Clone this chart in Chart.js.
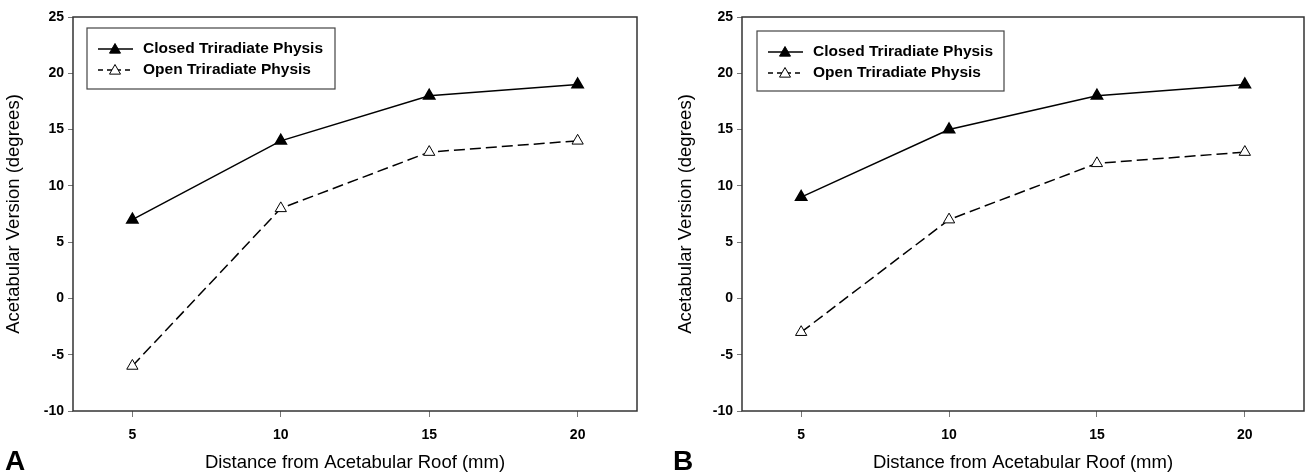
<!DOCTYPE html>
<html>
<head>
<meta charset="utf-8">
<script src="https://cdn.jsdelivr.net/npm/chart.js@4.4.1/dist/chart.umd.min.js"></script>
<style>
  body { margin: 0; background: #fff; overflow: hidden; }
  .panel { position: absolute; top: 0; height: 475px; }
</style>
</head>
<body>
<div class="panel" style="left:0;width:653px"><canvas id="chartA" width="653" height="475"></canvas></div>
<div class="panel" style="left:653px;width:659px"><canvas id="chartB" width="659" height="475"></canvas></div>
<script>
// distances from the acetabular roof (mm)
const distances = [5, 10, 15, 20];
const seriesNames = ['Closed Triradiate Physis', 'Open Triradiate Physis'];

// panel A
const closedA = [7, 14, 18, 19];
const openA = [-6, 8, 13, 14];
// panel B
const closedB = [9, 15, 18, 19];
const openB = [-3, 7, 12, 13];

const xTicks = [5, 10, 15, 20];
const yTicks = [-10, -5, 0, 5, 10, 15, 20, 25];

const FONT = "'Liberation Sans', Arial, sans-serif";
const DASH = [11, 5];

function pts(vals) {
  return vals.map((v, i) => ({ x: distances[i], y: v }));
}

// box around the plot area, legend and panel letter
const extras = {
  id: 'extras',
  afterDraw(chart, args, o) {
    const ctx = chart.ctx;
    const a = chart.chartArea;
    ctx.save();
    ctx.strokeStyle = '#333';
    ctx.lineWidth = 1.5;
    ctx.strokeRect(a.left, a.top, a.right - a.left, a.bottom - a.top);

    // legend
    const bx = a.left + o.lx, by = a.top + o.ly;
    ctx.lineWidth = 1.2;
    ctx.strokeStyle = '#444';
    ctx.strokeRect(bx, by, o.lw, o.lh);
    ctx.font = 'bold 15.5px ' + FONT;
    ctx.textBaseline = 'middle';
    ctx.fillStyle = '#000';
    chart.data.datasets.forEach((ds, i) => {
      const y = by + 21 + i * 21;
      ctx.strokeStyle = '#000';
      ctx.lineWidth = 1.5;
      ctx.setLineDash(ds.borderDash ? [5, 4] : []);
      ctx.beginPath();
      ctx.moveTo(bx + 11, y);
      ctx.lineTo(bx + 46, y);
      ctx.stroke();
      ctx.setLineDash([]);
      const cx = bx + 28, r = 5.5;
      ctx.beginPath();
      ctx.moveTo(cx, y - r);
      ctx.lineTo(cx + r, y + r * 0.75);
      ctx.lineTo(cx - r, y + r * 0.75);
      ctx.closePath();
      ctx.fillStyle = ds.pointBackgroundColor;
      ctx.fill();
      ctx.lineWidth = 1;
      ctx.stroke();
      ctx.fillStyle = '#000';
      ctx.fillText(ds.label, bx + 56, y);
    });

    // panel letter
    ctx.font = 'bold 28px ' + FONT;
    ctx.textBaseline = 'alphabetic';
    ctx.fillText(o.letter, o.letterX, 470);
    ctx.restore();
  }
};

function makeChart(id, closed, open, cfg) {
  return new Chart(document.getElementById(id), {
    type: 'line',
    data: {
      datasets: [
        {
          label: seriesNames[0],
          data: pts(closed),
          borderColor: '#000',
          borderWidth: 1.5,
          pointStyle: 'triangle',
          pointRadius: 6.5,
          pointBackgroundColor: '#000',
          pointBorderColor: '#000',
          tension: 0
        },
        {
          label: seriesNames[1],
          data: pts(open),
          borderColor: '#000',
          borderWidth: 1.5,
          borderDash: DASH,
          pointStyle: 'triangle',
          pointRadius: 6.5,
          pointBorderWidth: 1,
          pointBackgroundColor: '#fff',
          pointBorderColor: '#000',
          tension: 0
        }
      ]
    },
    options: {
      responsive: false,
      animation: false,
      layout: { padding: cfg.padding },
      plugins: {
        legend: { display: false },
        tooltip: { enabled: false },
        extras: cfg.extras
      },
      scales: {
        x: {
          type: 'linear',
          min: 3,
          max: 22,
          afterBuildTicks: s => { s.ticks = xTicks.map(v => ({ value: v })); },
          afterFit: s => { s.height = 64; },
          border: { display: false },
          grid: { drawOnChartArea: false, drawTicks: true, tickLength: 6, color: '#777', lineWidth: 1 },
          ticks: { padding: 10, color: '#000', font: { family: FONT, size: 14, weight: 'bold' } },
          title: {
            display: true,
            text: 'Distance from Acetabular Roof (mm)',
            color: '#000',
            padding: { top: 4, bottom: 1 },
            font: { family: FONT, size: 18.5 }
          }
        },
        y: {
          min: -10,
          max: 25,
          afterBuildTicks: s => { s.ticks = yTicks.map(v => ({ value: v })); },
          afterFit: s => { s.width = cfg.yWidth; },
          border: { display: false },
          grid: { drawOnChartArea: false, drawTicks: true, tickLength: 5, color: '#777', lineWidth: 1 },
          ticks: { padding: 4, color: '#000', font: { family: FONT, size: 14, weight: 'bold' } },
          title: {
            display: true,
            text: 'Acetabular Version (degrees)',
            color: '#000',
            padding: 3,
            font: { family: FONT, size: 18.5 }
          }
        }
      }
    },
    plugins: [extras]
  });
}

makeChart('chartA', closedA, openA, {
  padding: { left: 0, right: 16, top: 17, bottom: 0 },
  yWidth: 73,
  extras: { lx: 14, ly: 11, lw: 248, lh: 61, letter: 'A', letterX: 5 }
});

makeChart('chartB', closedB, openB, {
  padding: { left: 19, right: 2, top: 17, bottom: 0 },
  yWidth: 70,
  extras: { lx: 15, ly: 14, lw: 247, lh: 60, letter: 'B', letterX: 20 }
});
</script>
</body>
</html>
